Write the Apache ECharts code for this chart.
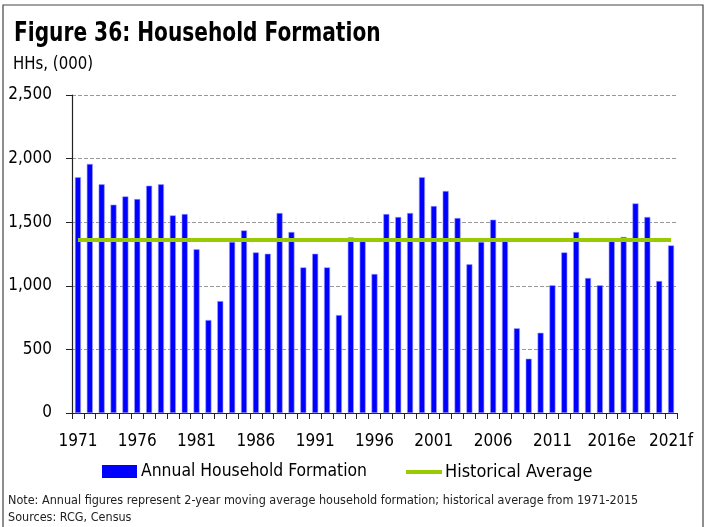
<!DOCTYPE html>
<html>
<head>
<meta charset="utf-8">
<script src="https://cdn.jsdelivr.net/npm/echarts@6/dist/echarts.min.js"></script>
<style>
  html, body { margin: 0; padding: 0; background: #fff; }
  #chart { width: 705px; height: 527px; }
</style>
</head>
<body>
<div id="chart"></div>
<script>
// 年份标签（每5年显示一次）
const years = [
  '1971', '1972', '1973', '1974', '1975', '1976', '1977', '1978', '1979', '1980',
  '1981', '1982', '1983', '1984', '1985', '1986', '1987', '1988', '1989', '1990',
  '1991', '1992', '1993', '1994', '1995', '1996', '1997', '1998', '1999', '2000',
  '2001', '2002', '2003', '2004', '2005', '2006', '2007', '2008', '2009', '2010',
  '2011', '2012', '2013', '2014', '2015', '2016e', '2017', '2018', '2019', '2020',
  '2021f'
]

// Annual Household Formation, HHs (000)
const formation = [
  1853, 1958, 1798, 1638, 1703, 1682, 1787, 1798, 1554, 1564,
  1287, 731, 880, 1345, 1436, 1263, 1252, 1572, 1423, 1145,
  1252, 1145, 770, 1381, 1350, 1093, 1564, 1541, 1572, 1853,
  1627, 1745, 1533, 1169, 1345, 1520, 1350, 666, 427, 631,
  1004, 1263, 1423, 1061, 1004, 1350, 1384, 1648, 1541, 1038,
  1318
]

// 1971-2015 historical average
const historicalAverage = 1360

const yTicks = [0, 500, 1000, 1500, 2000, 2500]

const FONT = '"DejaVu Sans Condensed", "DejaVu Sans", sans-serif'

const chart = echarts.init(document.getElementById('chart'))

chart.setOption({
  animation: false,
  textStyle: { fontFamily: FONT },
  graphic: [
    { type: 'rect', shape: { x: 3, y: 5, width: 700, height: 540 }, style: { fill: 'none', stroke: '#444', lineWidth: 1.2 } },
    {
      type: 'text', x: 14, y: 20, scaleX: 0.83,
      style: { text: 'Figure 36: Household Formation', font: 'bold 27px ' + FONT, fill: '#000', verticalAlign: 'top' }
    },
    {
      type: 'text', x: 13, y: 55, scaleX: 0.95,
      style: { text: 'HHs, (000)', font: '17.5px ' + FONT, fill: '#000', verticalAlign: 'top' }
    },
    { type: 'text', left: 8, top: 494, style: { text: 'Note: Annual figures represent 2-year moving average household formation; historical average from 1971-2015', font: '12.5px ' + FONT, fill: '#222' } },
    { type: 'text', left: 8, top: 511, style: { text: 'Sources: RCG, Census', font: '12.5px ' + FONT, fill: '#222' } }
  ],
  legend: [
    {
      left: 102, top: 463, padding: 0, itemWidth: 35, itemHeight: 13, itemGap: 0,
      data: [{ name: 'Annual Household Formation', icon: 'rect', itemStyle: { borderWidth: 0 } }],
      textStyle: { fontSize: 17.4, color: '#000', fontFamily: FONT, padding: [0, 0, 0, -1] }
    },
    {
      left: 406, top: 463, padding: 0, itemWidth: 36, itemHeight: 4, itemGap: 0,
      data: [{ name: 'Historical Average', icon: 'rect' }],
      textStyle: { fontSize: 18, color: '#000', fontFamily: FONT, padding: [0, 0, 0, -2] }
    }
  ],
  grid: { left: 72, right: 28, top: 95, bottom: 114 },
  xAxis: {
    type: 'category',
    data: years,
    axisLine: { lineStyle: { color: '#222', width: 1.2 } },
    axisTick: { show: true, length: 6, interval: 0, lineStyle: { color: '#222' } },
    axisLabel: { interval: 4, fontSize: 17, color: '#000', margin: 20, fontFamily: FONT }
  },
  yAxis: {
    type: 'value',
    min: yTicks[0],
    max: yTicks[yTicks.length - 1],
    interval: 500,
    axisLine: { show: true, lineStyle: { color: '#222', width: 1.2 } },
    axisTick: { show: true, length: 6, lineStyle: { color: '#222' } },
    axisLabel: {
      fontSize: 17, color: '#000', margin: 20, fontFamily: FONT,
      formatter: v => v.toLocaleString('en-US')
    },
    splitLine: { lineStyle: { color: '#999', type: [4, 2] } }
  },
  series: [
    {
      name: 'Annual Household Formation',
      type: 'bar',
      data: formation,
      barWidth: 6,
      itemStyle: { color: '#0000ff', borderColor: '#9a9aff', borderWidth: 0.6 }
    },
    {
      name: 'Historical Average',
      type: 'line',
      data: [],
      symbol: 'none',
      itemStyle: { color: '#99cc00' },
      lineStyle: { color: '#99cc00', width: 4 },
      markLine: {
        silent: true,
        symbol: ['none', 'none'],
        label: { show: false },
        lineStyle: { color: '#99cc00', width: 4, type: 'solid' },
        data: [[
          { coord: [years[0], historicalAverage] },
          { coord: [years[years.length - 1], historicalAverage] }
        ]]
      }
    }
  ]
})
</script>
</body>
</html>
